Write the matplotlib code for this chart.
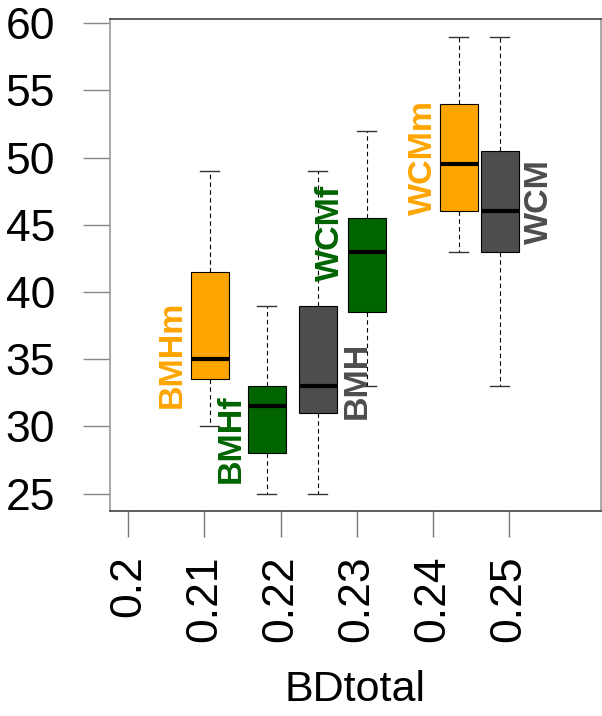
import matplotlib
matplotlib.use("Agg")
import matplotlib.pyplot as plt

plt.rcParams['font.family'] = ['Liberation Sans', 'DejaVu Sans']

# groups placed along BDtotal
groups = ["BMHm", "BMHf", "BMH", "WCMf", "WCMm", "WCM"]
positions = [0.2107, 0.2182, 0.2249, 0.2313, 0.2434, 0.2488]
colors = ["#FFA500", "#006400", "#4D4D4D", "#006400", "#FFA500", "#4D4D4D"]

# five-number summaries
lower = [30, 25, 25, 33, 43, 33]
q1 = [33.5, 28, 31, 38.5, 46, 43]
median = [35, 31.5, 33, 43, 49.5, 46]
q3 = [41.5, 33, 39, 45.5, 54, 50.5]
upper = [49, 39, 49, 52, 59, 59]

# label anchors (x, y) in data units
label_x = [0.20575, 0.2135, 0.2300, 0.2265, 0.2387, 0.2540]
label_y = [35.4, 29.1, 33.4, 44.4, 50.0, 46.75]

xticks = [0.20, 0.21, 0.22, 0.23, 0.24, 0.25]
xticklabels = ["0.2", "0.21", "0.22", "0.23", "0.24", "0.25"]
yticks = [25, 30, 35, 40, 45, 50, 55, 60]

fig = plt.figure(figsize=(6.02, 7.16), dpi=100)
ax = fig.add_axes([110 / 602, (716 - 511) / 716, 491 / 602, 492 / 716])

stats = []
for g, lo, a, m, b, hi in zip(groups, lower, q1, median, q3, upper):
    stats.append(dict(label=g, whislo=lo, q1=a, med=m, q3=b, whishi=hi, fliers=[]))

bp = ax.bxp(stats, positions=positions, widths=0.005, capwidths=0.0025,
            patch_artist=True, showfliers=False, manage_ticks=False,
            boxprops=dict(edgecolor="black", linewidth=0.8),
            medianprops=dict(color="black", linewidth=3),
            whiskerprops=dict(color="black", linewidth=0.8, linestyle=(0, (4, 3))),
            capprops=dict(color="#333333", linewidth=1))
for patch, c in zip(bp["boxes"], colors):
    patch.set_facecolor(c)

for g, x, y, c in zip(groups, label_x, label_y, colors):
    ax.text(x, y, g, rotation=90, ha="center", va="center", color=c,
            fontsize=24.5, fontweight="bold")

ax.set_xlim(0.19759, 0.26207)
ax.set_ylim(23.71, 60.32)

ax.set_xticks(xticks)
ax.set_xticklabels(xticklabels, rotation=90, fontsize=32)
ax.set_yticks(yticks)
ax.set_yticklabels([str(v) for v in yticks], fontsize=32)
ax.tick_params(axis="x", length=19, width=1, color="#777777", pad=13)
ax.tick_params(axis="y", length=19.5, width=1, color="#888888", pad=20)

for side in ["left", "right"]:
    ax.spines[side].set_color("#9a9a9a")
for side in ["top", "bottom"]:
    ax.spines[side].set_color("#444444")
for s in ax.spines.values():
    s.set_linewidth(1.2)

ax.set_xlabel("BDtotal", fontsize=31, labelpad=20)

fig.savefig("out.png", dpi=100)
